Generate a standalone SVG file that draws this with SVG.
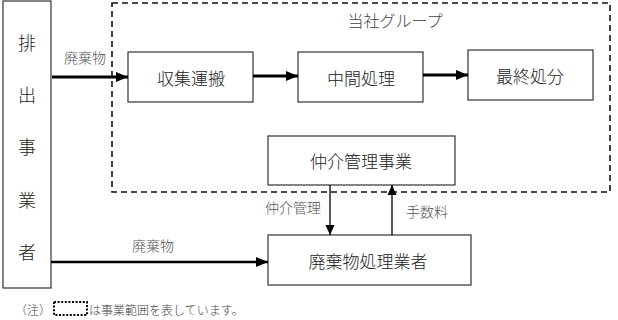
<svg xmlns="http://www.w3.org/2000/svg" width="618" height="320" viewBox="0 0 618 320">
<style>
.box{fill:#fff;stroke:#333;stroke-width:1.2}
.t{font-family:"Noto Sans CJK JP","Liberation Sans",sans-serif;font-weight:300;dominant-baseline:central;text-anchor:middle;fill:#222}
.bt{font-size:17px}
.lt{font-size:14px;fill:#555}
.thick{stroke:#000;stroke-width:3;fill:none}
.thin{stroke:#000;stroke-width:1.3;fill:none}
</style>
<defs>
<marker id="ah" markerUnits="userSpaceOnUse" markerWidth="12" markerHeight="10" refX="12" refY="5" orient="auto">
<path d="M0,0 L12,5 L0,10 Z" fill="#000"/>
</marker>
<marker id="ahs" markerUnits="userSpaceOnUse" markerWidth="10" markerHeight="10" refX="10" refY="5" orient="auto">
<path d="M0,0.5 L10,5 L0,9.5 Z" fill="#000"/>
</marker>
</defs>
<rect width="618" height="320" fill="#fff"/>
<g id="scope">
<rect x="112" y="3" width="498" height="189" fill="none" stroke="#111" stroke-width="1.6" stroke-dasharray="6,4"/>
<text class="t" x="395" y="20" style="font-size:16px;fill:#444">当社グループ</text>
</g>
<g id="emitter">
<rect class="box" x="3" y="1" width="48" height="287"/>
<text class="t" x="27" y="42" style="font-size:18px">排</text>
<text class="t" x="27" y="94" style="font-size:18px">出</text>
<text class="t" x="27" y="146" style="font-size:18px">事</text>
<text class="t" x="27" y="199" style="font-size:18px">業</text>
<text class="t" x="27" y="251" style="font-size:18px">者</text>
</g>
<g id="collect">
<rect class="box" x="128" y="52" width="125" height="50"/>
<text class="t bt" x="191" y="77">収集運搬</text>
</g>
<g id="intermediate">
<rect class="box" x="298" y="52" width="125" height="50"/>
<text class="t bt" x="361" y="77">中間処理</text>
</g>
<g id="final">
<rect class="box" x="468" y="50" width="125" height="50"/>
<text class="t bt" x="530" y="75">最終処分</text>
</g>
<g id="broker">
<rect class="box" x="268" y="136" width="187" height="49"/>
<text class="t bt" x="361" y="160">仲介管理事業</text>
</g>
<g id="processor">
<rect class="box" x="268" y="235" width="203" height="50"/>
<text class="t bt" x="368" y="260">廃棄物処理業者</text>
</g>
<g id="connectors">
<line class="thick" x1="52" y1="77" x2="128" y2="77" marker-end="url(#ah)"/>
<line class="thick" x1="253" y1="76" x2="298" y2="76" marker-end="url(#ah)"/>
<line class="thick" x1="423" y1="75" x2="468" y2="75" marker-end="url(#ah)"/>
<line class="thin" x1="330" y1="185" x2="330" y2="235" marker-end="url(#ahs)"/>
<line class="thin" x1="392" y1="235" x2="392" y2="185" marker-end="url(#ahs)"/>
<line class="thick" style="stroke-width:2.5" x1="51" y1="262" x2="268" y2="262" marker-end="url(#ah)"/>
<text class="t lt" x="85" y="57">廃棄物</text>
<text class="t lt" x="153" y="245">廃棄物</text>
<text class="t lt" x="293" y="207">仲介管理</text>
<text class="t lt" x="427" y="211">手数料</text>
</g>
<g id="note">
<text class="t" x="33" y="309" style="font-size:12px;fill:#444">（注）</text>
<rect x="54" y="302" width="33" height="13" fill="none" stroke="#000" stroke-width="2" stroke-dasharray="2,1.6"/>
<text class="t" x="89" y="309" style="font-size:12px;fill:#444;text-anchor:start">は事業範囲を表しています。</text>
</g>
</svg>
